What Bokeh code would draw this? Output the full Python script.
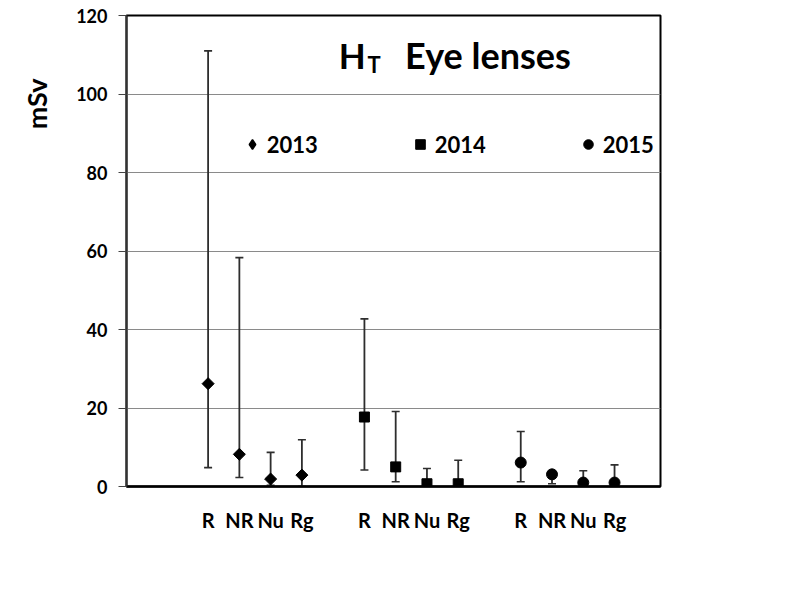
import math
from bokeh.plotting import figure
from bokeh.models import (ColumnDataSource, Whisker, TeeHead, Range1d, FixedTicker,
                          Label, Legend, LegendItem, Title)
from bokeh.embed import file_html
from bokeh.resources import INLINE

# ---- data ----
years = ["2013", "2014", "2015"]
categories = ["R", "NR", "Nu", "Rg"]
mean_2013 = [26.2, 8.2, 1.9, 2.9]
lower_2013 = [4.8, 2.3, 0.3, 0.0]
upper_2013 = [111.0, 58.3, 8.7, 11.9]
mean_2014 = [17.7, 5.0, 0.7, 0.7]
lower_2014 = [4.2, 1.2, 0.0, 0.0]
upper_2014 = [42.7, 19.1, 4.6, 6.7]
mean_2015 = [6.1, 3.1, 1.0, 1.0]
lower_2015 = [1.2, 0.7, 0.0, 0.0]
upper_2015 = [14.0, 3.9, 4.0, 5.5]
y_ticks = [0, 20, 40, 60, 80, 100, 120]

means = [mean_2013, mean_2014, mean_2015]
lowers = [lower_2013, lower_2014, lower_2015]
uppers = [upper_2013, upper_2014, upper_2015]

GROUP_STEP = len(categories) + 1  # one empty slot between year groups
FONT = "Lato"
BAR_COLOR = "#2e2e2e"

p = figure(width=770, height=580,
           x_range=Range1d(-2.61, 14.47), y_range=Range1d(0, 120),
           output_backend="svg", toolbar_location=None,
           min_border_left=126, min_border_top=15,
           min_border_right=110, min_border_bottom=94)
p.background_fill_color = "white"
p.border_fill_color = "white"
p.outline_line_color = "black"
p.outline_line_width = 2

marker_styles = [dict(marker="square", size=8.5, angle=math.pi / 4),
                 dict(marker="square", size=10, angle=0),
                 dict(marker="circle", size=11, angle=0)]
legend_markers = ["diamond", "square", "circle"]

legend_renderers = []
tick_pos = []
tick_labels = {}
for g, yr in enumerate(years):
    xs = [g * GROUP_STEP + i for i in range(len(categories))]
    for x, c in zip(xs, categories):
        tick_pos.append(x)
        tick_labels[x] = c
    src = ColumnDataSource(dict(x=xs, y=means[g], lower=lowers[g], upper=uppers[g]))
    w = Whisker(source=src, base="x", upper="upper", lower="lower",
                line_color=BAR_COLOR, line_width=1.8,
                upper_head=TeeHead(size=8, line_color=BAR_COLOR, line_width=1.6),
                lower_head=TeeHead(size=8, line_color=BAR_COLOR, line_width=1.6))
    p.add_layout(w)
    st = marker_styles[g]
    r = p.scatter("x", "y", source=src, marker=st["marker"], size=st["size"],
                  angle=st["angle"], fill_color="black", line_color="black")
    if st["angle"] == 0:
        legend_renderers.append(r)
    else:
        # legend keys are drawn unrotated, so use a diamond key (no visible point)
        nan_src = ColumnDataSource(dict(x=[float("nan")], y=[float("nan")]))
        rl = p.scatter("x", "y", source=nan_src, marker=legend_markers[g],
                       fill_color="black", line_color="black", line_width=1.5)
        legend_renderers.append(rl)

# axes
p.yaxis.ticker = FixedTicker(ticks=y_ticks)
p.yaxis.major_label_text_font = FONT
p.yaxis.major_label_text_font_style = "bold"
p.yaxis.major_label_text_font_size = "18px"
p.yaxis.major_label_text_color = "black"
p.yaxis.major_tick_out = 8
p.yaxis.major_tick_in = 0
p.yaxis.minor_tick_out = 0
p.yaxis.minor_tick_in = 0
p.yaxis.major_tick_line_color = "#444444"
p.yaxis.axis_line_color = "#333333"
p.yaxis.axis_line_width = 2
p.yaxis.major_label_standoff = 11

p.xaxis.ticker = FixedTicker(ticks=tick_pos)
p.xaxis.major_label_overrides = tick_labels
p.xaxis.major_label_text_font = FONT
p.xaxis.major_label_text_font_style = "bold"
p.xaxis.major_label_text_font_size = "20px"
p.xaxis.major_label_text_color = "black"
p.xaxis.major_tick_out = 0
p.xaxis.major_tick_in = 0
p.xaxis.minor_tick_out = 0
p.xaxis.minor_tick_in = 0
p.xaxis.axis_line_color = "black"
p.xaxis.axis_line_width = 2.5
p.xaxis.major_label_standoff = 21

p.xgrid.visible = False
p.ygrid.ticker = FixedTicker(ticks=y_ticks)
p.ygrid.grid_line_color = "#8a8a8a"
p.ygrid.grid_line_width = 1

# y axis title placed near the top, left of tick labels
p.add_layout(Title(text="mSv", align="right", vertical_align="top",
                   offset=63, standoff=38,
                   text_font=FONT, text_font_style="bold", text_font_size="27px",
                   text_color="black"), "left")

# in-plot title "H_T  Eye lenses"
p.add_layout(Label(x=4.18, y=109.9, text="H", text_font=FONT, text_font_style="bold",
                   text_font_size="35px", text_color="black", text_baseline="alphabetic"))
p.add_layout(Label(x=5.1, y=107.6, text="T", text_font=FONT, text_font_style="bold",
                   text_font_size="22px", text_color="black", text_baseline="alphabetic"))
p.add_layout(Label(x=6.3, y=109.9, text="Eye lenses", text_font=FONT, text_font_style="bold",
                   text_font_size="36px", text_color="black", text_baseline="alphabetic"))

legend = Legend(items=[LegendItem(label=yr, renderers=[r]) for yr, r in zip(years, legend_renderers)],
                orientation="horizontal", location=(113.7, 328.5),
                glyph_width=24, glyph_height=24, label_height=24, label_width=141,
                label_standoff=3, spacing=0, padding=0, margin=0,
                label_text_font=FONT, label_text_font_style="bold",
                label_text_font_size="22px", label_text_color="black",
                background_fill_alpha=0, border_line_color=None)
p.add_layout(legend)

open("out.html", "w").write(file_html(p, INLINE))
